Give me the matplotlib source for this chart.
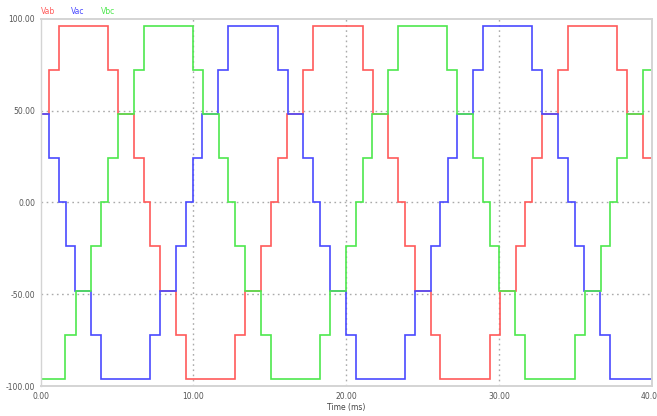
import matplotlib
matplotlib.use("Agg")
import matplotlib.pyplot as plt

# Switching instants (ms) and the level each trace steps to at that instant
vab_t = [0.00, 0.52, 1.17, 4.40, 5.05, 6.09, 6.73, 7.18, 7.81, 8.85, 9.50,
         12.73, 13.39, 14.43, 15.06, 15.51, 16.15, 17.19, 17.84, 21.07, 21.72,
         22.76, 23.40, 23.85, 24.48, 25.52, 26.17, 29.40, 30.06, 31.10, 31.73,
         32.18, 32.81, 33.85, 34.50, 37.73, 38.38, 39.42]
vab_v = [48, 72, 96, 72, 48, 24, 0, -24, -48, -72, -96,
         -72, -48, -24, 0, 24, 48, 72, 96, 72, 48,
         24, 0, -24, -48, -72, -96, -72, -48, -24, 0,
         24, 48, 72, 96, 72, 48, 24]

vac_t = [0.00, 0.54, 1.18, 1.63, 2.26, 3.30, 3.95, 7.18, 7.84, 8.88, 9.51,
         9.96, 10.59, 11.63, 12.28, 15.51, 16.16, 17.20, 17.84, 18.29, 18.92,
         19.96, 20.61, 23.84, 24.50, 25.54, 26.17, 26.63, 27.26, 28.30, 28.95,
         32.18, 32.83, 33.87, 34.51, 34.96, 35.59, 36.63, 37.28]
vac_v = [48, 24, 0, -24, -48, -72, -96, -72, -48, -24, 0,
         24, 48, 72, 96, 72, 48, 24, 0, -24, -48,
         -72, -96, -72, -48, -24, 0, 24, 48, 72, 96,
         72, 48, 24, 0, -24, -48, -72, -96]

vbc_t = [0.00, 1.62, 2.28, 3.32, 3.95, 4.40, 5.04, 6.08, 6.73, 9.96, 10.61,
         11.65, 12.29, 12.74, 13.37, 14.41, 15.06, 18.29, 18.95, 19.99, 20.62,
         21.07, 21.70, 22.74, 23.39, 26.62, 27.27, 28.31, 28.95, 29.40, 30.03,
         31.07, 31.72, 34.95, 35.61, 36.65, 37.28, 37.74, 38.37, 39.41]
vbc_v = [-96, -72, -48, -24, 0, 24, 48, 72, 96, 72, 48,
         24, 0, -24, -48, -72, -96, -72, -48, -24, 0,
         24, 48, 72, 96, 72, 48, 24, 0, -24, -48,
         -72, -96, -72, -48, -24, 0, 24, 48, 72]

t_end = 40.0
traces = [("Vab", vab_t, vab_v, "#ff5a5a"),
          ("Vac", vac_t, vac_v, "#4a4aff"),
          ("Vbc", vbc_t, vbc_v, "#4ee84e")]

xticks = [0, 10, 20, 30, 40]
yticks = [-100, -50, 0, 50, 100]

fig = plt.figure(figsize=(6.57, 4.16), dpi=100)
ax = fig.add_axes([0.062, 0.072, 0.930, 0.883])

for name, t, v, col in traces:
    # simulation starts from zero, then jumps to the first level
    tt = [0.0] + list(t) + [t_end]
    vv = [0] + list(v) + [v[-1]]
    ax.step(tt, vv, where="post", color=col, lw=1.2, solid_joinstyle="miter")

ax.set_xlim(0, 40)
ax.set_ylim(-100, 100)
ax.set_xticks(xticks)
ax.set_yticks(yticks)
ax.set_xticklabels(["%.2f" % x for x in xticks])
ax.set_yticklabels(["%.2f" % y for y in yticks])
ax.tick_params(length=0, labelsize=5.5, labelcolor="#555555", pad=4)

for x in xticks[1:-1]:
    ax.axvline(x, color="#aaaaaa", ls=(0, (1.2, 2.5)), lw=1.0, zorder=0)
for y in yticks[1:-1]:
    ax.axhline(y, color="#aaaaaa", ls=(0, (1.2, 2.5)), lw=1.0, zorder=0)

for side in ["top", "bottom", "left", "right"]:
    ax.spines[side].set_color("#d4d4d4")
    ax.spines[side].set_linewidth(1.4)
ax.spines["left"].set_linewidth(1.0)

ax.set_xlabel("Time (ms)", fontsize=5.5, color="#444444", labelpad=2)

# series names above the plot area
for i, (name, t, v, col) in enumerate(traces):
    fig.text(0.062 + i * 0.046, 0.972, name, color=col, fontsize=5.5,
             ha="left", va="center")

fig.savefig("out.png", dpi=100)
